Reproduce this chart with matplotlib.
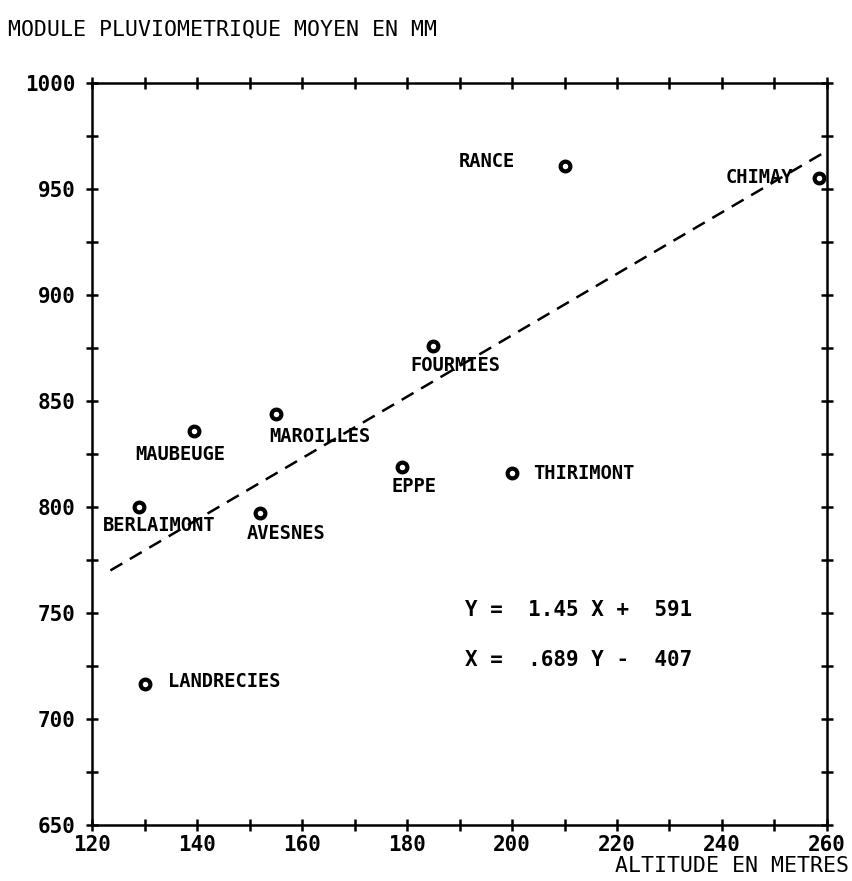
import matplotlib
matplotlib.use('Agg')
import matplotlib.pyplot as plt
import numpy as np

# stations: altitude (m) and mean rainfall (mm)
stations = ['RANCE', 'CHIMAY', 'FOURMIES', 'MAROILLES', 'MAUBEUGE',
            'BERLAIMONT', 'AVESNES', 'EPPE', 'THIRIMONT', 'LANDRECIES']
altitude = [210, 258.5, 185, 155, 139.5, 129, 152, 179, 200, 130]
pluvio = [961, 955, 876, 844, 836, 800, 797, 819, 816, 716.5]

# regression Y = a X + b
pente = 1.45
origine = 591
x_droite = [123.5, 260]

# label offsets (pixels) and alignment
decal = {
    'RANCE': (-50, 4, 'right'),
    'CHIMAY': (-26, 1, 'right'),
    'FOURMIES': (22, -20, 'center'),
    'MAROILLES': (-7, -23, 'left'),
    'MAUBEUGE': (-14, -24, 'center'),
    'BERLAIMONT': (-36, -19, 'left'),
    'AVESNES': (-13, -20, 'left'),
    'EPPE': (-10, -20, 'left'),
    'THIRIMONT': (21, 0, 'left'),
    'LANDRECIES': (23, 2, 'left'),
}

police = 'DejaVu Sans Mono'

fig = plt.figure(figsize=(8.53, 8.81), dpi=100)
ax = fig.add_axes([0.1079, 0.0636, 0.8616, 0.8422])

ax.set_xlim(120, 260)
ax.set_ylim(650, 1000)

# dashed regression line
xd = np.array(x_droite)
ax.plot(xd, pente * xd + origine, color='black', lw=1.8,
        linestyle=(0, (5.5, 3.5)), clip_on=False)

ax.plot(altitude, pluvio, 'o', ms=7, mfc='white', mec='black', mew=3,
        clip_on=False, zorder=5)

for nom, x, y in zip(stations, altitude, pluvio):
    dx, dy, ha = decal[nom]
    ax.annotate(nom, (x, y), xytext=(dx, dy), textcoords='offset pixels',
                ha=ha, va='center', family=police, fontweight='bold',
                fontsize=13.5)

ax.text(191, 751.5, 'Y =  %.2f X +  %d' % (pente, origine),
        family=police, fontweight='bold', fontsize=15, va='center')
ax.text(191, 728, 'X =  .689 Y -  407',
        family=police, fontweight='bold', fontsize=15, va='center')

# ticks
ax.set_xticks(np.arange(120, 261, 10))
ax.set_xticklabels([str(v) if v % 20 == 0 else '' for v in range(120, 261, 10)])
ax.set_yticks(np.arange(650, 1001, 25))
ax.set_yticklabels([str(v) if v % 50 == 0 else '' for v in range(650, 1001, 25)])
ax.tick_params(direction='inout', length=9, width=1.8, top=True, right=True,
               labelsize=15)
ax.tick_params(axis='x', pad=2.5)
ax.tick_params(axis='y', pad=7.5)
for lab in ax.get_xticklabels() + ax.get_yticklabels():
    lab.set_family(police)
    lab.set_fontweight('bold')

for sp in ax.spines.values():
    sp.set_linewidth(1.8)

fig.text(0.009, 0.966, 'MODULE PLUVIOMETRIQUE MOYEN EN MM', family=police,
         fontsize=15.5, va='center', ha='left')
fig.text(0.995, 0.017, 'ALTITUDE EN METRES', family=police,
         fontsize=15.5, va='center', ha='right')

fig.savefig('out.png', dpi=100)
